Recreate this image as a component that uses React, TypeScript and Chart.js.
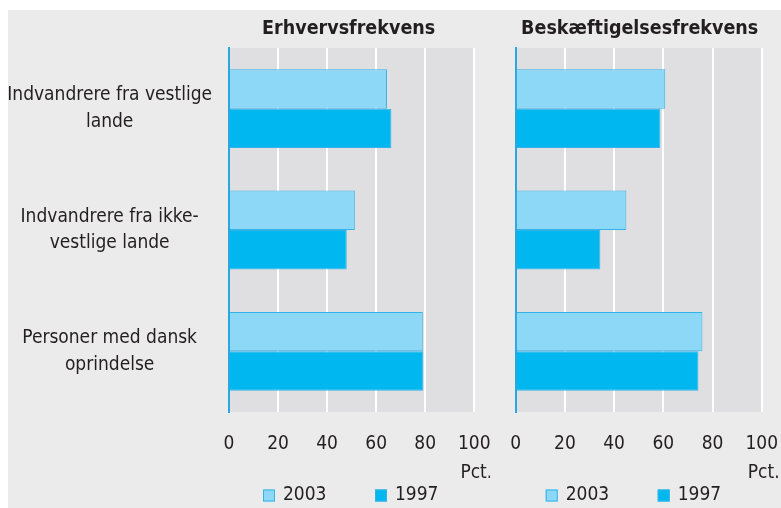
import React, { useEffect, useRef } from "react";
import { Chart, registerables } from "chart.js";

Chart.register(...registerables);

const categories: string[][] = [
  ["Indvandrere fra vestlige", "lande"],
  ["Indvandrere fra ikke-", "vestlige lande"],
  ["Personer med dansk", "oprindelse"],
];
const seriesNames = ["2003", "1997"];
const erhverv2003 = [64.4, 51.3, 79.0];
const erhverv1997 = [66.2, 48.0, 79.2];
const beskaeft2003 = [60.8, 45.0, 75.9];
const beskaeft1997 = [58.8, 34.4, 74.3];
const panelTitles = ["Erhvervsfrekvens", "Beskæftigelsesfrekvens"];
const unitLabel = "Pct.";
const xMax = 100;

const FONT = "'DejaVu Sans Condensed', 'Liberation Sans', sans-serif";
const LIGHT = "#8dd7f7";
const DARK = "#00b8ef";
const BORDER = "#33b3e8";
const TEXT = "#231f20";

const plotBg = {
  id: "plotBg",
  beforeDraw(chart: any) {
    const { ctx, chartArea } = chart;
    ctx.save();
    ctx.fillStyle = "#dfdfe1";
    ctx.fillRect(chartArea.left, chartArea.top, chartArea.right - chartArea.left, chartArea.bottom - chartArea.top);
    ctx.restore();
  },
};

const decorPlugin = {
  id: "decor",
  afterDraw(chart: any, _args: any, opts: any) {
    const { ctx, chartArea } = chart;
    const x = chart.scales.x;
    ctx.save();
    ctx.fillStyle = TEXT;
    ctx.textBaseline = "middle";
    // title
    ctx.font = `bold 19.5px ${FONT}`;
    ctx.textAlign = "center";
    ctx.fillText(opts.title, (chartArea.left + chartArea.right) / 2 + opts.titleShift, chartArea.top - 19);
    // unit
    ctx.font = `19px ${FONT}`;
    ctx.fillText(unitLabel, x.getPixelForValue(xMax) + 2, chartArea.bottom + 61);
    // legend
    const ly = chartArea.bottom + 83.5;
    ctx.textAlign = "left";
    chart.data.datasets.forEach((ds: any, i: number) => {
      const bx = chartArea.left + opts.legendOffset + i * 112;
      ctx.fillStyle = ds.backgroundColor;
      ctx.fillRect(bx, ly - 6, 12, 12);
      ctx.strokeStyle = ds.borderColor;
      ctx.lineWidth = 1;
      ctx.strokeRect(bx + 0.5, ly - 5.5, 11, 11);
      ctx.fillStyle = TEXT;
      ctx.fillText(ds.label, bx + 20, ly);
    });
    ctx.restore();
  },
};

function makeConfig(p: any): any {
  return {
    type: "bar",
    data: {
      labels: categories,
      datasets: [
        { label: seriesNames[0], data: p.d2003, backgroundColor: LIGHT, borderColor: BORDER, borderWidth: 1 },
        { label: seriesNames[1], data: p.d1997, backgroundColor: DARK, borderColor: BORDER, borderWidth: 1 },
      ],
    },
    plugins: [plotBg, decorPlugin],
    options: {
      indexAxis: "y",
      animation: false,
      responsive: false,
      maintainAspectRatio: false,
      datasets: { bar: { categoryPercentage: 0.65, barPercentage: 1 } },
      layout: { padding: { left: p.padLeft, right: p.padRight, top: 38, bottom: 42 } },
      scales: {
        x: {
          min: 0,
          max: xMax,
          ticks: { stepSize: 20, color: TEXT, font: { family: FONT, size: 19 }, padding: 21, maxRotation: 0 },
          grid: { color: "#ffffff", lineWidth: 2, drawTicks: false },
          border: { display: false },
          afterFit(s: any) {
            s.height = 54;
            s.paddingLeft = 0;
            s.paddingRight = 0;
          },
        },
        y: {
          ticks: {
            display: p.showLabels,
            color: TEXT,
            font: { family: FONT, size: 19, lineHeight: 1.4 },
            crossAlign: "center",
            padding: 17,
          },
          grid: { display: false, drawTicks: false },
          border: { display: true, color: "#29a8e0", width: 2 },
          afterFit(s: any) {
            s.width = p.showLabels ? 221 : 0;
            s.paddingTop = 0;
            s.paddingBottom = 0;
          },
        },
      },
      plugins: {
        title: { display: false },
        legend: { display: false },
        tooltip: { enabled: false },
        decor: { title: p.title, titleShift: p.titleShift, legendOffset: p.legendOffset },
      },
    },
  };
}

function Panel(props: any) {
  const ref = useRef<HTMLCanvasElement>(null);
  useEffect(() => {
    const chart = new Chart(ref.current as HTMLCanvasElement, makeConfig(props));
    return () => chart.destroy();
  }, []);
  return (
    <div style={{ position: "absolute", left: props.left, top: 0, width: props.width, height: 498 }}>
      <canvas ref={ref} width={props.width} height={498} style={{ width: props.width, height: 498, display: "block" }} />
    </div>
  );
}

export default function App() {
  return (
    <div style={{ position: "absolute", left: 8, top: 10, width: 773, height: 498, background: "#ebebeb" }}>
      <Panel title={panelTitles[0]} d2003={erhverv2003} d1997={erhverv1997} showLabels={true} width={482} left={0}
        padLeft={0} padRight={15.7} titleShift={-3} legendOffset={34} />
      <Panel title={panelTitles[1]} d2003={beskaeft2003} d1997={beskaeft1997} showLabels={false} width={291} left={482}
        padLeft={25.7} padRight={19.3} titleShift={1} legendOffset={30} />
    </div>
  );
}
